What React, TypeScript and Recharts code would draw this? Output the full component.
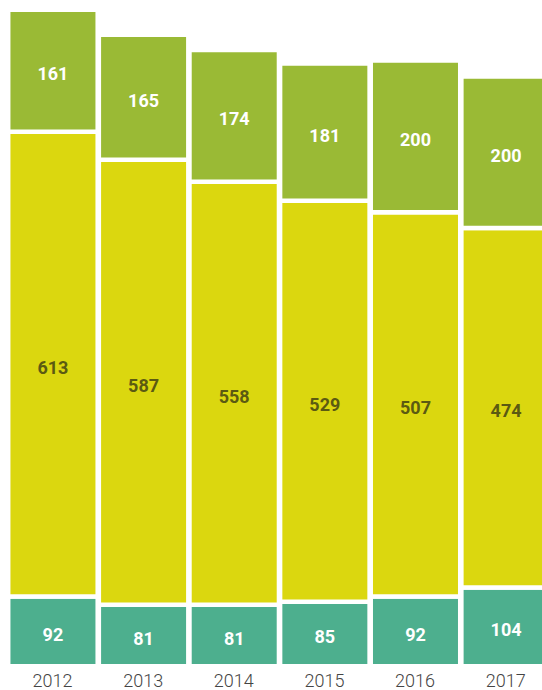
import React from 'react';
import { BarChart, Bar, XAxis, YAxis, LabelList } from 'recharts';

const years = ['2012', '2013', '2014', '2015', '2016', '2017'];
const bottomValues = [92, 81, 81, 85, 92, 104];
const middleValues = [613, 587, 558, 529, 507, 474];
const topValues = [161, 165, 174, 181, 200, 200];

const data = years.map((year, i) => ({
  year,
  bottom: bottomValues[i],
  middle: middleValues[i],
  top: topValues[i],
}));

const FONT = 'Roboto, "DejaVu Sans", sans-serif';

const YearTick = (props: any) => {
  const { x, payload } = props;
  return (
    <text x={x} y={687} textAnchor="middle" fontFamily={FONT} fontSize={18} fontWeight={300} fill="#444444">
      {payload.value}
    </text>
  );
};

const labelStyle = (color: string) => ({
  fill: color,
  fontFamily: FONT,
  fontSize: 18,
  fontWeight: 700,
});

export default function App() {
  return (
    <div style={{ position: 'absolute', left: 0, top: 0, width: 542, height: 690, overflow: 'hidden', background: '#fff' }}>
      <BarChart
        width={551}
        height={690}
        data={data}
        margin={{ top: 9.75, right: 0, left: 7.2, bottom: 0 }}
        barCategoryGap={0}
        barGap={0}
      >
        <XAxis dataKey="year" axisLine={false} tickLine={false} height={23.75} tick={<YearTick />} interval={0} />
        <YAxis hide domain={[0, 866]} />
        <Bar dataKey="bottom" stackId="a" fill="#4daf8e" stroke="#ffffff" strokeWidth={4.5} barSize={89.5} isAnimationActive={false}>
          <LabelList dataKey="bottom" position="center" dy={3} style={labelStyle('#ffffff')} />
        </Bar>
        <Bar dataKey="middle" stackId="a" fill="#dbd70f" stroke="#ffffff" strokeWidth={4.5} barSize={89.5} isAnimationActive={false}>
          <LabelList dataKey="middle" position="center" dy={3} style={labelStyle('#5b5a12')} />
        </Bar>
        <Bar dataKey="top" stackId="a" fill="#9aba35" stroke="#ffffff" strokeWidth={4.5} barSize={89.5} isAnimationActive={false}>
          <LabelList dataKey="top" position="center" dy={3} style={labelStyle('#ffffff')} />
        </Bar>
      </BarChart>
    </div>
  );
}
